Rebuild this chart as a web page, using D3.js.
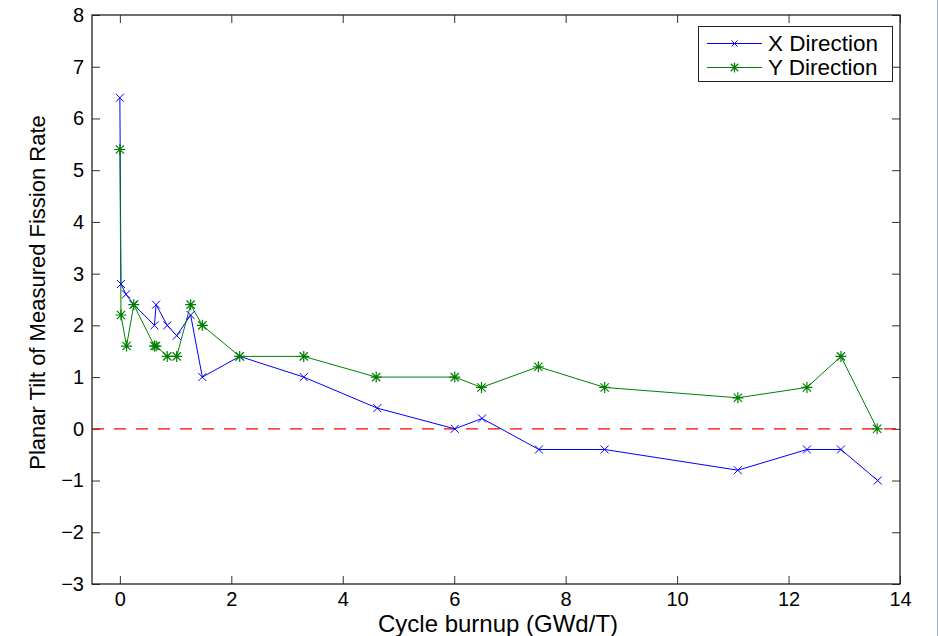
<!DOCTYPE html>
<html>
<head>
<meta charset="utf-8">
<script src="https://cdn.jsdelivr.net/npm/d3@7/dist/d3.min.js"></script>
<style>
  html, body { margin: 0; padding: 0; background: #fff; }
  svg { display: block; }
  text { font-family: "Liberation Sans", Arial, Helvetica, sans-serif; fill: #000; }
</style>
</head>
<body>
<svg id="chart" width="938" height="636"></svg>
<script>
// Cycle burnup (GWd/T) at each measurement
const burnupX = [0, 0.02, 0.11, 0.25, 0.62, 0.65, 0.85, 1.02, 1.27, 1.48, 2.15, 3.3, 4.62, 6.01, 6.5, 7.52, 8.7, 11.09, 12.33, 12.94, 13.6];
const tiltX   = [6.4, 2.8, 2.6, 2.4, 2.0, 2.4, 2.0, 1.8, 2.2, 1.0, 1.4, 1.0, 0.4, 0.0, 0.2, -0.4, -0.4, -0.8, -0.4, -0.4, -1.0];

const burnupY = [0, 0.02, 0.12, 0.25, 0.62, 0.65, 0.85, 1.02, 1.27, 1.48, 2.15, 3.3, 4.6, 6.01, 6.49, 7.51, 8.7, 11.09, 12.33, 12.94, 13.59];
const tiltY   = [5.4, 2.2, 1.6, 2.4, 1.6, 1.6, 1.4, 1.4, 2.4, 2.0, 1.4, 1.4, 1.0, 1.0, 0.8, 1.2, 0.8, 0.6, 0.8, 1.4, 0.0];

const xTicks = [0, 2, 4, 6, 8, 10, 12, 14];
const yTicks = [-3, -2, -1, 0, 1, 2, 3, 4, 5, 6, 7, 8];
const seriesNames = ["X Direction", "Y Direction"];

const svg = d3.select("#chart");
const pLeft = 92, pRight = 900, pTop = 15, pBottom = 584;

const x = d3.scaleLinear().domain([-0.5, 14]).range([pLeft, pRight]);
const y = d3.scaleLinear().domain([-3, 8]).range([pBottom, pTop]);

const fmt = d => (d < 0 ? "\u2212" + Math.abs(d) : String(d));

// thin frame line at the right edge of the figure
svg.append("line").attr("x1", 937.5).attr("x2", 937.5).attr("y1", 0).attr("y2", 636)
  .attr("stroke", "#9fb3d8").attr("stroke-width", 1);

// Axes with inward ticks on all four sides
const tickLen = 8;
svg.append("g").attr("transform", `translate(0,${pBottom})`)
  .call(d3.axisBottom(x).tickValues(xTicks).tickSizeInner(-tickLen).tickSizeOuter(0).tickPadding(8).tickFormat(fmt))
  .call(g => g.select(".domain").remove())
  .call(g => g.selectAll("text").attr("font-size", 20))
  .call(g => g.selectAll("line").attr("stroke", "#333"));
svg.append("g").attr("transform", `translate(0,${pTop})`)
  .call(d3.axisTop(x).tickValues(xTicks).tickSizeInner(-tickLen).tickSizeOuter(0).tickFormat(""))
  .call(g => g.select(".domain").remove())
  .call(g => g.selectAll("line").attr("stroke", "#333"));
svg.append("g").attr("transform", `translate(${pLeft},0)`)
  .call(d3.axisLeft(y).tickValues(yTicks).tickSizeInner(-tickLen).tickSizeOuter(0).tickPadding(8).tickFormat(fmt))
  .call(g => g.select(".domain").remove())
  .call(g => g.selectAll("text").attr("font-size", 20))
  .call(g => g.selectAll("line").attr("stroke", "#333"));
svg.append("g").attr("transform", `translate(${pRight},0)`)
  .call(d3.axisRight(y).tickValues(yTicks).tickSizeInner(-tickLen).tickSizeOuter(0).tickFormat(""))
  .call(g => g.select(".domain").remove())
  .call(g => g.selectAll("line").attr("stroke", "#333"));

// Zero reference line
svg.append("line")
  .attr("x1", x(-0.5)).attr("x2", x(14)).attr("y1", y(0)).attr("y2", y(0))
  .attr("stroke", "#ff0000").attr("stroke-width", 1.2).attr("stroke-dasharray", "12,10");

const line = d3.line().x(d => x(d[0])).y(d => y(d[1]));
const dataX = burnupX.map((b, i) => [b, tiltX[i]]);
const dataY = burnupY.map((b, i) => [b, tiltY[i]]);

const blue = "#0000ff", green = "#007f00";

function crossPath(cx, cy, r) {
  return `M${cx - r},${cy - r}L${cx + r},${cy + r}M${cx - r},${cy + r}L${cx + r},${cy - r}`;
}
function starPath(cx, cy, r) {
  const d = r * 0.75;
  return crossPath(cx, cy, d) + `M${cx - r},${cy}L${cx + r},${cy}M${cx},${cy - r}L${cx},${cy + r}`;
}

svg.append("path").datum(dataX).attr("d", line).attr("fill", "none").attr("stroke", blue).attr("stroke-width", 1);
svg.append("path").datum(dataY).attr("d", line).attr("fill", "none").attr("stroke", green).attr("stroke-width", 1);

svg.append("g").selectAll("path").data(dataX).join("path")
  .attr("d", d => crossPath(x(d[0]), y(d[1]), 4))
  .attr("stroke", blue).attr("stroke-width", 1).attr("fill", "none");
svg.append("g").selectAll("path").data(dataY).join("path")
  .attr("d", d => starPath(x(d[0]), y(d[1]), 5.5))
  .attr("stroke", green).attr("stroke-width", 1.2).attr("fill", "none");

// Plot box
svg.append("rect").attr("x", pLeft).attr("y", pTop).attr("width", pRight - pLeft).attr("height", pBottom - pTop)
  .attr("fill", "none").attr("stroke", "#222").attr("stroke-width", 1.3);

// Axis titles
svg.append("text").attr("x", 498).attr("y", 632).attr("text-anchor", "middle")
  .attr("font-size", 24).text("Cycle burnup (GWd/T)");
svg.append("text").attr("transform", "translate(45,292.5) rotate(-90)")
  .attr("text-anchor", "middle").attr("font-size", 22).text("Planar Tilt of Measured Fission Rate");

// Legend
const lg = svg.append("g");
lg.append("rect").attr("x", 698.5).attr("y", 26.5).attr("width", 194).attr("height", 55)
  .attr("fill", "#fff").attr("stroke", "#222").attr("stroke-width", 1);
const colors = [blue, green];
seriesNames.forEach((name, i) => {
  const cy = 43.5 + i * 24;
  lg.append("line").attr("x1", 707).attr("x2", 762).attr("y1", cy).attr("y2", cy)
    .attr("stroke", colors[i]).attr("stroke-width", 1.2);
  lg.append("path").attr("d", i === 0 ? crossPath(734.5, cy, 3) : starPath(734.5, cy, 5))
    .attr("stroke", colors[i]).attr("stroke-width", i === 0 ? 1 : 1.2).attr("fill", "none");
  lg.append("text").attr("x", 768).attr("y", cy + 7.5).attr("font-size", 22.5).text(name);
});
</script>
</body>
</html>
